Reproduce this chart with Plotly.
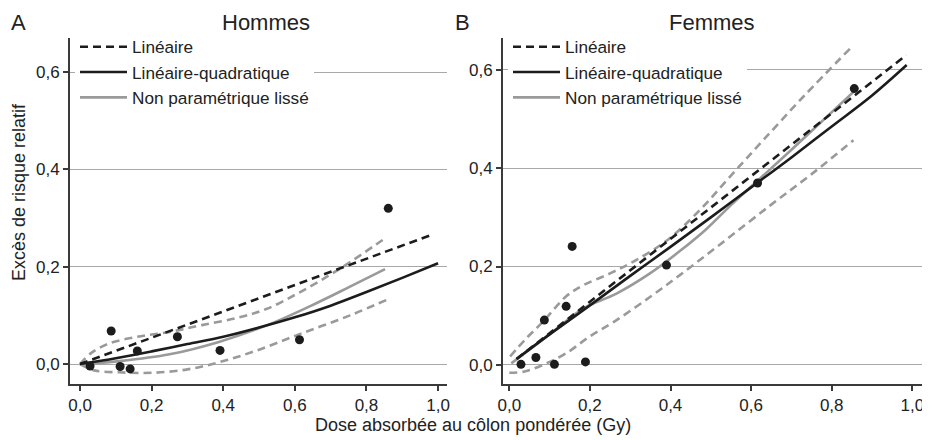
import plotly.graph_objects as go

# ---------------- data ----------------
# Hommes
h_pts_dose = [0.028, 0.087, 0.112, 0.140, 0.160, 0.272, 0.391, 0.613, 0.861]
h_pts_err = [-0.004, 0.068, -0.005, -0.010, 0.027, 0.056, 0.028, 0.050, 0.320]

h_lin_dose = [0.0, 0.987]
h_lin_err = [0.0, 0.267]

h_lq_dose = [0.0, 0.1, 0.2, 0.3, 0.4, 0.5, 0.6, 0.7, 0.8, 0.9, 1.0]
h_lq_err = [0.0, 0.012, 0.026, 0.041, 0.056, 0.075, 0.096, 0.120, 0.148, 0.177, 0.207]

h_np_dose = [0.005, 0.11, 0.25, 0.39, 0.53, 0.66, 0.754, 0.852]
h_np_err = [0.0, 0.006, 0.020, 0.046, 0.082, 0.125, 0.159, 0.195]

h_up_dose = [0.0, 0.03, 0.08, 0.16, 0.25, 0.34, 0.44, 0.52, 0.615, 0.726, 0.857]
h_up_err = [0.0, 0.022, 0.042, 0.056, 0.066, 0.080, 0.095, 0.113, 0.148, 0.196, 0.261]

h_lo_dose = [0.0, 0.04, 0.11, 0.2, 0.3, 0.39, 0.49, 0.615, 0.754, 0.857]
h_lo_err = [0.0, -0.013, -0.017, -0.018, -0.011, 0.004, 0.027, 0.062, 0.100, 0.132]

# Femmes
f_pts_dose = [0.029, 0.066, 0.087, 0.112, 0.141, 0.156, 0.189, 0.390, 0.616, 0.856]
f_pts_err = [0.001, 0.015, 0.091, 0.001, 0.119, 0.241, 0.006, 0.203, 0.370, 0.562]

f_lin_dose = [0.018, 0.985]
f_lin_err = [0.012, 0.630]

f_lq_dose = [0.018, 0.1, 0.2, 0.3, 0.4, 0.5, 0.6, 0.7, 0.8, 0.9, 0.986]
f_lq_err = [0.012, 0.062, 0.121, 0.181, 0.240, 0.300, 0.361, 0.422, 0.485, 0.548, 0.610]

f_np_dose = [0.005, 0.1, 0.184, 0.266, 0.349, 0.424, 0.49, 0.55, 0.618, 0.74, 0.856]
f_np_err = [0.003, 0.062, 0.115, 0.145, 0.186, 0.232, 0.277, 0.325, 0.376, 0.468, 0.557]

f_up_dose = [0.002, 0.04, 0.084, 0.142, 0.184, 0.25, 0.308, 0.391, 0.473, 0.55, 0.63, 0.73, 0.845]
f_up_err = [0.017, 0.052, 0.088, 0.140, 0.162, 0.186, 0.210, 0.253, 0.315, 0.385, 0.457, 0.546, 0.643]

f_lo_dose = [0.0, 0.035, 0.084, 0.142, 0.2, 0.266, 0.349, 0.424, 0.523, 0.65, 0.75, 0.854]
f_lo_err = [-0.016, -0.014, 0.0, 0.024, 0.058, 0.091, 0.138, 0.183, 0.245, 0.326, 0.388, 0.457]

tick_vals_x = [0.0, 0.2, 0.4, 0.6, 0.8, 1.0]
tick_vals_y = [0.0, 0.2, 0.4, 0.6]

labels = ["Linéaire", "Linéaire-quadratique", "Non paramétrique lissé"]

# ---------------- styling ----------------
FONT = "Liberation Sans, Arial, Helvetica, sans-serif"
BLACK = "#1c1c1c"
GRAY = "#9a9a9a"
DASH = "8px,5px"
W, H = 922, 432  # page body has an 8px margin in the 930x440 window

fig = go.Figure()


def add_panel(xa, ya, leg, pd, pe, ld, le, qd, qe, nd, ne, ud, ue, od, oe):
    for d, e in ((ud, ue), (od, oe)):
        fig.add_trace(go.Scatter(x=d, y=e, mode="lines", xaxis=xa, yaxis=ya,
                                 line=dict(color=GRAY, width=2.6, dash=DASH, shape="spline"),
                                 showlegend=False, hoverinfo="skip"))
    fig.add_trace(go.Scatter(x=nd, y=ne, mode="lines", xaxis=xa, yaxis=ya, name=labels[2],
                             legend=leg, legendrank=3,
                             line=dict(color=GRAY, width=2.6, shape="spline")))
    fig.add_trace(go.Scatter(x=qd, y=qe, mode="lines", xaxis=xa, yaxis=ya, name=labels[1],
                             legend=leg, legendrank=2,
                             line=dict(color=BLACK, width=2.6, shape="spline")))
    fig.add_trace(go.Scatter(x=ld, y=le, mode="lines", xaxis=xa, yaxis=ya, name=labels[0],
                             legend=leg, legendrank=1,
                             line=dict(color=BLACK, width=2.6, dash=DASH)))
    fig.add_trace(go.Scatter(x=pd, y=pe, mode="markers", xaxis=xa, yaxis=ya,
                             marker=dict(color=BLACK, size=9), showlegend=False))


add_panel("x", "y", "legend", h_pts_dose, h_pts_err, h_lin_dose, h_lin_err, h_lq_dose, h_lq_err,
          h_np_dose, h_np_err, h_up_dose, h_up_err, h_lo_dose, h_lo_err)
add_panel("x2", "y2", "legend2", f_pts_dose, f_pts_err, f_lin_dose, f_lin_err, f_lq_dose, f_lq_err,
          f_np_dose, f_np_err, f_up_dose, f_up_err, f_lo_dose, f_lo_err)

ydom = [1 - 376 / H, 1 - 30 / H]
axis_common = dict(showline=True, linecolor="#3a3a3a", linewidth=1.8, ticks="outside",
                   ticklen=5, tickwidth=1.5, tickcolor="#3a3a3a", tickformat=".1f",
                   tickfont=dict(size=17, color="#222222", family=FONT), zeroline=False)
legend_common = dict(xanchor="left", yanchor="top", bgcolor="white", borderwidth=0,
                     font=dict(size=17.2, family=FONT, color="#222222"),
                     traceorder="normal", itemwidth=47)

fig.update_layout(
    width=W, height=H,
    margin=dict(l=0, r=0, t=0, b=0),
    paper_bgcolor="white", plot_bgcolor="white",
    separators=", ",
    font=dict(family=FONT, color="#222222"),
    xaxis=dict(domain=[62 / W, 439 / W], range=[-0.028, 1.025], tickvals=tick_vals_x,
               showgrid=False, anchor="y", automargin=False, **axis_common),
    yaxis=dict(domain=ydom, range=[-0.041, 0.670], tickvals=tick_vals_y, showgrid=True,
               gridcolor="#a8a8a8", gridwidth=1.4, anchor="x", automargin=False, **axis_common),
    xaxis2=dict(domain=[495 / W, 914 / W], range=[-0.0156, 1.024], tickvals=tick_vals_x,
                showgrid=False, anchor="y2", automargin=False, **axis_common),
    yaxis2=dict(domain=ydom, range=[-0.039, 0.665], tickvals=tick_vals_y, showgrid=True,
                gridcolor="#a8a8a8", gridwidth=1.4, anchor="x2", automargin=False, **axis_common),
    legend=dict(x=67 / W, y=1 - 21 / H, **legend_common),
    legend2=dict(x=500 / W, y=1 - 21 / H, **legend_common),
    showlegend=True,
)

# panel letters and titles, anchored at the top edge so they are never clipped
ann = [
    dict(text="A", x=1, xanchor="left"),
    dict(text="Hommes", x=258, xanchor="center"),
    dict(text="B", x=454, xanchor="center"),
    dict(text="Femmes", x=704, xanchor="center"),
]
for a in ann:
    fig.add_annotation(text=a["text"], x=a["x"] / W, y=1.0, xref="paper", yref="paper",
                       xanchor=a["xanchor"], yanchor="top", showarrow=False,
                       font=dict(size=22, family=FONT, color="#222222"))
fig.add_annotation(text="Dose absorbée au côlon pondérée (Gy)", x=465 / W, y=1 - 417 / H,
                   xref="paper", yref="paper", xanchor="center", yanchor="middle",
                   showarrow=False, font=dict(size=18, family=FONT, color="#222222"))
fig.add_annotation(text="Excès de risque relatif", x=11 / W, y=1 - 184 / H, xref="paper",
                   yref="paper", xanchor="center", yanchor="middle", showarrow=False,
                   textangle=-90, borderpad=0, font=dict(size=18, family=FONT, color="#222222"))

fig.write_html("out.html")
